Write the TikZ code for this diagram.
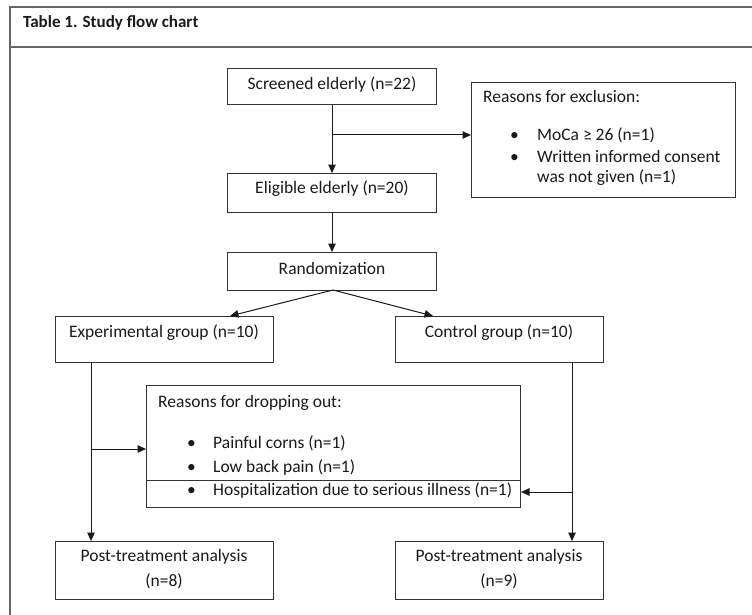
\documentclass[tikz,border=0pt]{standalone}
\usepackage{fontspec}
\setmainfont{Carlito}
\usetikzlibrary{arrows.meta}
\tikzset{
  boxshape/.style={draw=black!80, line width=1pt, rectangle, inner sep=0pt, anchor=north west},
  txt/.style={inner sep=0pt, text=black!90, font=\fontsize{17.5}{21}\selectfont},
  ltxt/.style={txt, anchor=base west},
  frameline/.style={draw=black!60, line width=1.6pt},
  conn/.style={draw=black!90, line width=1pt},
  arr/.style={conn, -{Triangle[length=8.5pt,width=7.5pt]}},
}
\begin{document}
\begin{tikzpicture}[x=1pt,y=-1pt]
\useasboundingbox (0,0) rectangle (752,615);
% frame
\coordinate (fbl) at (10,616);
\coordinate (ftl) at (10,7);
\coordinate (ftr) at (753,7);
\coordinate (fhl) at (10,47);
\coordinate (fhr) at (753,47);
\draw[frameline] (fbl) -- (ftl) -- (ftr);
\draw[frameline] (fhl) -- (fhr);
\node[ltxt, font=\fontsize{17}{20}\selectfont\bfseries] (title) at (23,28) {Table 1. Study flow chart};

% boxes
\node[boxshape, minimum width=209pt, minimum height=36pt] (scr) at (227,68) {};
\node[boxshape, minimum width=209pt, minimum height=39pt] (eli) at (227,173) {};
\node[boxshape, minimum width=209pt, minimum height=38pt] (ran) at (227,252) {};
\node[boxshape, minimum width=264pt, minimum height=115pt] (exc) at (471,82) {};
\node[boxshape, minimum width=218pt, minimum height=46pt] (exp) at (55,316) {};
\node[boxshape, minimum width=208pt, minimum height=46pt] (ctl) at (395,316) {};
\node[boxshape, minimum width=374pt, minimum height=122pt] (drop) at (146,385) {};
\coordinate (dl) at (146,480);
\coordinate (dr) at (520,480);
\draw[draw=black!80, line width=1pt] (dl) -- (dr);
\node[boxshape, minimum width=218pt, minimum height=58pt] (pt1) at (55,541) {};
\node[boxshape, minimum width=208pt, minimum height=58pt] (pt2) at (395,541) {};

% texts in boxes
\node[txt] (tscr) at (332,85) {Screened elderly (n=22)};
\node[txt] (teli) at (332,189) {Eligible elderly (n=20)};
\node[txt] (tran) at (332,268) {Randomization};
\node[txt] (texp) at (164,333) {Experimental group (n=10)};
\node[txt] (tctl) at (499,333) {Control group (n=10)};
\node[txt] (tpt1a) at (164,557) {Post-treatment analysis};
\node[txt] (tpt1b) at (164,581) {(n=8)};
\node[txt] (tpt2a) at (499,557) {Post-treatment analysis};
\node[txt] (tpt2b) at (499,581) {(n=9)};

% exclusion texts
\node[ltxt] (e0) at (483,103) {Reasons for exclusion:};
\node[ltxt] (e1b) at (510,140) {\textbullet};
\node[ltxt] (e1) at (537,140) {MoCa ≥ 26 (n=1)};
\node[ltxt] (e2b) at (510,162) {\textbullet};
\node[ltxt] (e2) at (537,162) {Written informed consent};
\node[ltxt] (e3) at (537,182) {was not given (n=1)};

% dropping texts
\node[ltxt] (d0) at (158,407) {Reasons for dropping out:};
\node[ltxt] (d1b) at (187,448) {\textbullet};
\node[ltxt] (d1) at (213,448) {Painful corns (n=1)};
\node[ltxt] (d2b) at (187,472) {\textbullet};
\node[ltxt] (d2) at (213,472) {Low back pain (n=1)};
\node[ltxt] (d3b) at (187,495) {\textbullet};
\node[ltxt] (d3) at (213,495) {Hospitalization due to serious illness (n=1)};

% connectors
\coordinate (b1) at (332,135);
\draw[arr] (scr.south -| b1) -- (eli.north -| b1);
\draw[arr] (b1) -- (b1 -| exc.west);
\draw[arr] (eli.south -| b1) -- (ran.north -| b1);
\coordinate (rs) at (333,290);
\coordinate (et) at (230,316);
\coordinate (ct) at (433,316);
\draw[arr] (rs) -- (et);
\draw[arr] (rs) -- (ct);
\coordinate (lx) at (91,449);
\draw[arr] (exp.south -| lx) -- (pt1.north -| lx);
\draw[arr] (lx) -- (lx -| drop.west);
\coordinate (rx) at (572,492);
\draw[arr] (ctl.south -| rx) -- (pt2.north -| rx);
\draw[arr] (rx) -- (rx -| drop.east);
\end{tikzpicture}
\end{document}
